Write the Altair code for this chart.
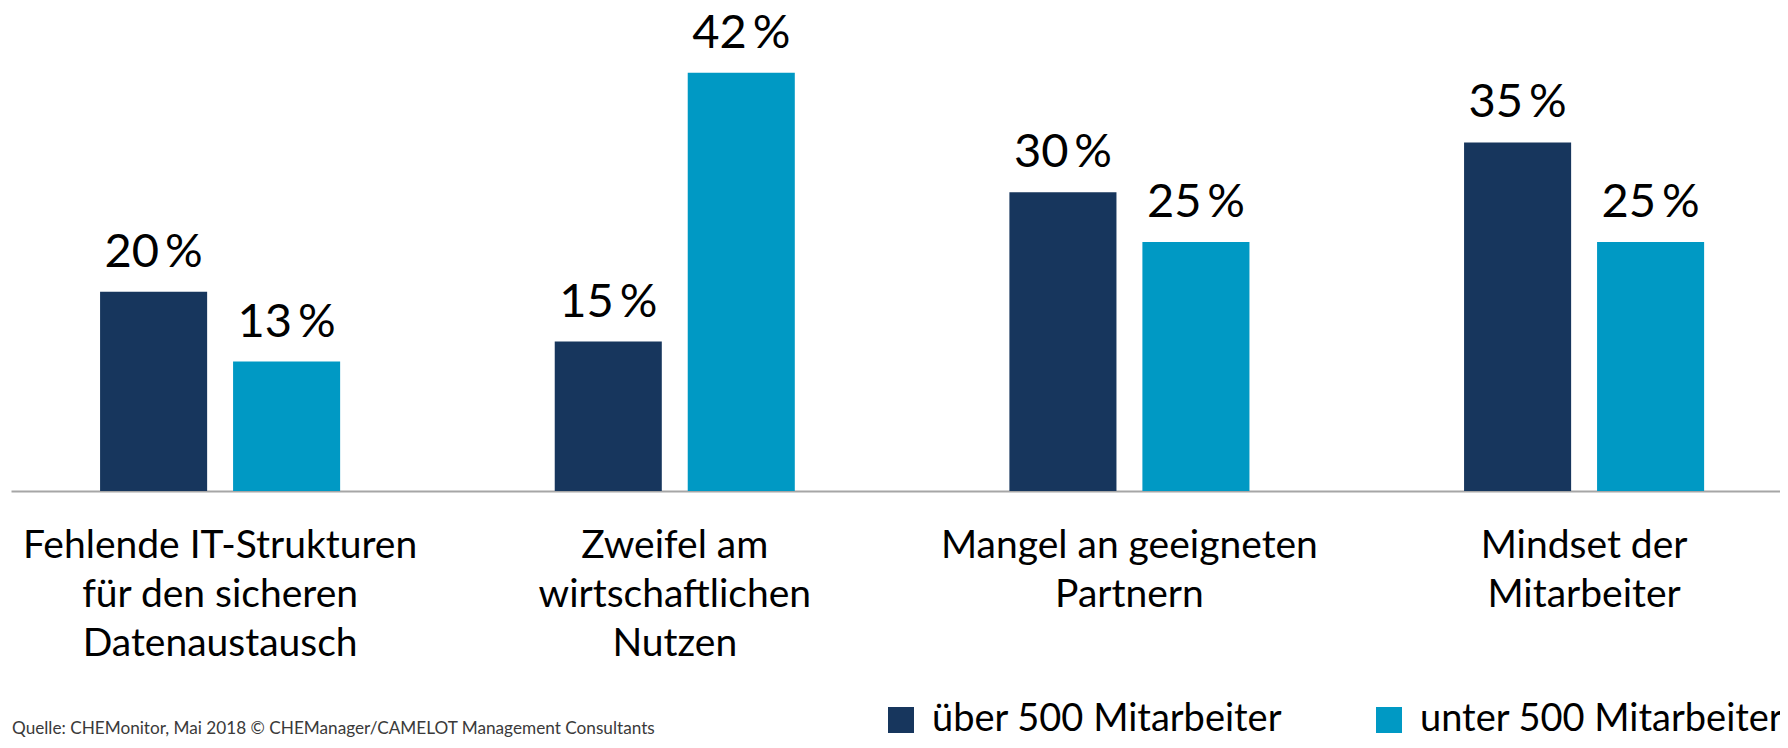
import altair as alt
import pandas as pd

categories = [
    "Fehlende IT-Strukturen|für den sicheren|Datenaustausch",
    "Zweifel am|wirtschaftlichen|Nutzen",
    "Mangel an geeigneten|Partnern",
    "Mindset der|Mitarbeiter",
]
series = ["über 500 Mitarbeiter", "unter 500 Mitarbeiter"]
ueber_500 = [20, 15, 30, 35]
unter_500 = [13, 42, 25, 25]
colors = ["#17365D", "#0099C4"]
source_note = ["Quelle: CHEMonitor, Mai 2018  © CHEManager/CAMELOT Management Consultants"]

rows = []
for cat, v1, v2 in zip(categories, ueber_500, unter_500):
    rows.append({"Kategorie": cat, "Gruppe": series[0], "Wert": v1, "Label": f"{v1}\u2009%"})
    rows.append({"Kategorie": cat, "Gruppe": series[1], "Wert": v2, "Label": f"{v2}\u2009%"})
df = pd.DataFrame(rows)

FONT = "Lato"

base = alt.Chart(df).encode(
    x=alt.X(
        "Kategorie:N",
        sort=categories,
        scale=alt.Scale(paddingInner=0.472, paddingOuter=0.1814, align=0.54),
        axis=alt.Axis(
            title=None,
            labelExpr="split(datum.label, '|')",
            labelFont=FONT,
            labelFontSize=39,
            labelColor="black",
            labelLineHeight=49,
            labelBaseline="alphabetic",
            labelPadding=66,
            labelAngle=0,
            labelLimit=800,
            labelOverlap=False,
            labelFlush=False,
            ticks=False,
            tickSize=0,
            domainColor="#A6A6A6",
            domainWidth=2,
            grid=False,
        ),
    ),
    xOffset=alt.XOffset("Gruppe:N", sort=series, scale=alt.Scale(paddingInner=0.195, paddingOuter=0)),
    y=alt.Y("Wert:Q", scale=alt.Scale(domain=[0, 48.5]), axis=None),
)

bars = base.mark_bar().encode(
    color=alt.Color(
        "Gruppe:N",
        sort=series,
        scale=alt.Scale(domain=series, range=colors),
        legend=alt.Legend(
            orient="none",
            legendX=871,
            legendY=693,
            direction="horizontal",
            title=None,
            symbolType="square",
            symbolSize=676,
            symbolStrokeWidth=0,
            symbolOpacity=1,
            labelFont=FONT,
            labelFontSize=38,
            labelColor="black",
            labelOffset=12,
            columnPadding=87,
            labelLimit=800,
            padding=0,
        ),
    )
)

labels = base.mark_text(
    font=FONT, fontSize=47, baseline="alphabetic", dy=-25, color="black"
).encode(text="Label:N")

src = alt.Chart(pd.DataFrame({"t": source_note})).mark_text(
    align="left", baseline="alphabetic", font=FONT, fontSize=17.2, color="#3A3A3A"
).encode(x=alt.value(1), y=alt.value(726), text="t:N")

chart = alt.layer(bars, labels, src).properties(
    width=1769,
    height=483,
    autosize=alt.AutoSizeParams(type="none"),
    padding={"left": 3, "top": 0, "right": 0, "bottom": 249},
).configure(
    font=FONT,
    view=alt.ViewConfig(stroke="transparent", strokeWidth=0),
)

chart.save("out.html", embed_options={"renderer": "svg", "actions": False})
